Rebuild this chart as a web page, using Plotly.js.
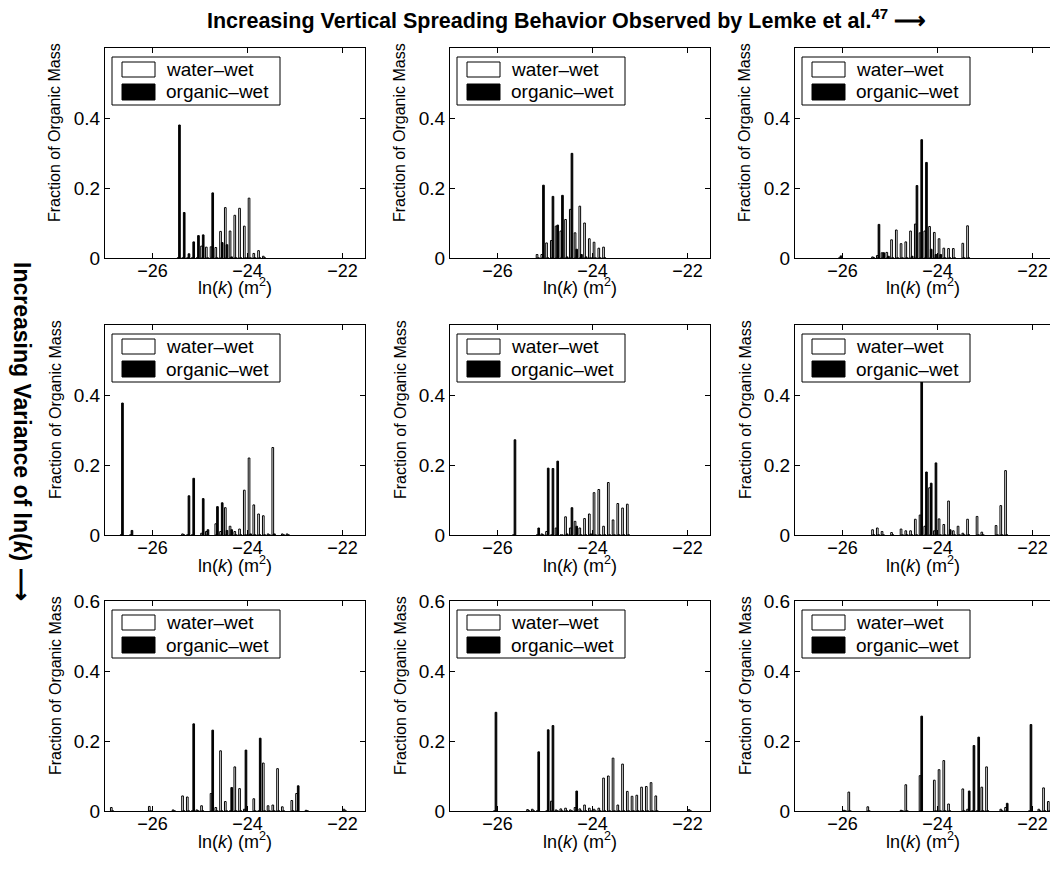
<!DOCTYPE html>
<html><head><meta charset="utf-8">
<script src="https://cdn.plot.ly/plotly-3.0.1.min.js"></script>
<style>html,body{margin:0;padding:0;background:#fff}#chart{width:1050px;height:869px}</style>
</head><body><div id="chart"></div>
<script>
// ---------- data (bin centres in ln(k), fractions of organic mass) ----------
const seriesNames = ['water\u2013wet', 'organic\u2013wet'];

const p11_x = [-25.45,-25.35,-25.25,-25.15,-25.05,-24.95,-24.85,-24.75,-24.65,-24.55,-24.45,-24.35,-24.25,-24.15,-24.05,-23.95,-23.85,-23.75,-23.65];
const p11_water = [0,0,0,0,0,0.034,0.031,0.032,0.03,0.076,0.144,0.077,0.122,0.142,0.091,0.171,0.013,0.021,0.005];
const p11_organic = [0.38,0.13,0.012,0.046,0.064,0.066,0,0.186,0,0.044,0.038,0.003,0,0,0,0,0,0,0];

const p12_x = [-25.15,-25.05,-24.95,-24.85,-24.75,-24.65,-24.55,-24.45,-24.35,-24.25,-24.15,-24.05,-23.95,-23.85,-23.75];
const p12_water = [0.01,0.01,0.043,0.05,0.091,0.077,0.11,0.139,0.072,0.148,0.1,0.055,0.045,0.028,0.031];
const p12_organic = [0,0.208,0,0.176,0.094,0.179,0.003,0.299,0.025,0.01,0.003,0,0,0,0];

const p13_x = [-26.05,-25.35,-25.25,-25.15,-25.05,-24.95,-24.85,-24.75,-24.65,-24.55,-24.45,-24.35,-24.25,-24.15,-24.05,-23.95,-23.85,-23.75,-23.65,-23.45,-23.35];
const p13_water = [0,0.003,0.007,0.015,0.016,0.052,0.08,0.041,0.046,0.077,0.097,0.072,0.077,0.09,0.073,0.055,0.028,0.027,0.027,0.042,0.092];
const p13_organic = [0.006,0,0.096,0.015,0.005,0,0,0,0,0.005,0.207,0.338,0.273,0.025,0.01,0.01,0,0,0,0,0];

const p21_x = [-26.65,-26.45,-25.35,-25.25,-25.15,-24.95,-24.85,-24.65,-24.55,-24.45,-24.35,-24.25,-24.15,-24.05,-23.95,-23.85,-23.75,-23.65,-23.55,-23.45,-23.25,-23.15];
const p21_water = [0,0,0.003,0,0,0.005,0.01,0.032,0.01,0.078,0.025,0.01,0.017,0.128,0.22,0.086,0.06,0.055,0.003,0.25,0.003,0.003];
const p21_organic = [0.377,0.013,0,0.112,0.162,0.104,0.015,0.081,0.092,0.013,0.015,0,0,0,0.003,0,0,0,0,0.003,0,0];

const p22_x = [-25.65,-25.15,-25.05,-24.95,-24.85,-24.75,-24.65,-24.55,-24.45,-24.35,-24.25,-24.15,-24.05,-23.95,-23.85,-23.75,-23.65,-23.55,-23.45,-23.35,-23.25];
const p22_water = [0,0,0.003,0.01,0,0.02,0,0.052,0.02,0.039,0.02,0.047,0.06,0.121,0.13,0.025,0.15,0.043,0.09,0.077,0.088];
const p22_organic = [0.272,0.02,0,0.191,0.19,0.211,0,0.003,0.078,0.025,0,0,0.003,0,0,0,0,0,0,0,0];

const p23_x = [-25.35,-25.25,-25.15,-24.95,-24.75,-24.65,-24.55,-24.45,-24.35,-24.25,-24.15,-24.05,-23.95,-23.85,-23.75,-23.65,-23.55,-23.45,-23.35,-23.15,-23.05,-22.75,-22.65,-22.55];
const p23_water = [0.015,0.02,0.01,0.007,0.017,0.012,0.012,0.045,0.057,0.025,0.135,0.012,0.046,0.03,0.097,0.012,0.025,0.005,0.045,0.053,0.008,0.027,0.084,0.184];
const p23_organic = [0,0,0,0,0,0,0,0,0.48,0.18,0.148,0.206,0,0,0.015,0,0,0,0,0,0,0,0,0];

const p31_x = [-26.85,-26.05,-25.55,-25.35,-25.25,-25.15,-25.05,-24.95,-24.75,-24.65,-24.55,-24.45,-24.35,-24.25,-24.15,-24.05,-23.85,-23.75,-23.65,-23.55,-23.45,-23.35,-23.25,-23.05,-22.95,-22.75,-21.95];
const p31_water = [0.01,0.013,0.003,0.043,0.04,0,0.003,0.015,0.05,0.01,0.172,0.027,0,0.126,0.064,0.005,0.035,0,0.137,0.015,0.017,0.121,0.012,0.03,0.05,0.002,0.005];
const p31_organic = [0,0,0,0,0,0.249,0,0,0.231,0,0,0,0.067,0,0,0.174,0,0.208,0,0,0,0,0,0,0.072,0,0];

const p32_x = [-26.05,-25.35,-25.25,-25.15,-24.95,-24.85,-24.75,-24.65,-24.55,-24.45,-24.35,-24.25,-24.15,-24.05,-23.95,-23.85,-23.75,-23.65,-23.55,-23.45,-23.35,-23.25,-23.15,-23.05,-22.95,-22.85,-22.75,-22.65,-21.95];
const p32_water = [0,0.004,0.005,0,0,0.028,0.003,0.006,0.008,0.003,0.01,0.006,0.017,0.008,0.005,0.008,0.094,0.1,0.151,0.017,0.134,0.056,0.042,0.045,0.068,0.07,0.081,0.043,0.004];
const p32_organic = [0.282,0,0,0.169,0.232,0.244,0,0,0,0,0.057,0,0,0,0,0,0,0,0,0,0,0,0,0,0,0,0,0,0];

const p33_x = [-25.95,-25.85,-25.45,-24.75,-24.65,-24.35,-24.05,-23.95,-23.85,-23.75,-23.45,-23.35,-23.25,-23.15,-23.05,-22.95,-22.65,-22.55,-22.05,-21.85,-21.75,-21.65];
const p33_water = [0.002,0.054,0.012,0.002,0.075,0.101,0.088,0.118,0.144,0.02,0.063,0.005,0,0,0.068,0.126,0.005,0.01,0,0.005,0.066,0.027];
const p33_organic = [0,0,0,0,0,0.271,0,0,0,0,0,0.057,0.187,0.211,0,0,0,0.022,0.247,0,0,0];

const xTickVals = [-26, -24, -22];
const xTickText = ['\u221226', '\u221224', '\u221222'];
const yTickValsUpper = [0, 0.2, 0.4];
const yTickTextUpper = ['0', '0.2', '0.4'];
const yTickValsLower = [0, 0.2, 0.4, 0.6];
const yTickTextLower = ['0', '0.2', '0.4', '0.6'];

const topTitle = '<b>Increasing Vertical Spreading Behavior Observed by Lemke et al.<sup>47</sup> \u27F6</b>';
const leftTitle = '<b>Increasing Variance of ln(<i>k</i>) \u27F6</b>';
const xTitle = 'ln(<i>k</i>) (m<sup>2</sup>)';
const yTitle = 'Fraction of Organic Mass';

// ---------- layout geometry ----------
const panels = [
  [p11_x, p11_water, p11_organic], [p12_x, p12_water, p12_organic], [p13_x, p13_water, p13_organic],
  [p21_x, p21_water, p21_organic], [p22_x, p22_water, p22_organic], [p23_x, p23_water, p23_organic],
  [p31_x, p31_water, p31_organic], [p32_x, p32_water, p32_organic], [p33_x, p33_water, p33_organic]
];
const W = 1050, H = 869;
const colPx = [[105, 365], [450, 710], [795, 1050]];
const rowPx = [[48, 258], [325, 535], [601, 811]];
const pxPerUnit = 47.5;
const FONT = 'Liberation Sans, Arial, Helvetica, sans-serif';
const px = v => v / W;
const py = v => 1 - v / H;

const data = [];
const layout = {
  width: W, height: H,
  margin: {l: 0, r: 0, t: 0, b: 0},
  paper_bgcolor: '#fff', plot_bgcolor: '#fff',
  showlegend: false,
  barmode: 'group', bargap: 0.3, bargroupgap: 0,
  font: {family: FONT, color: '#000', size: 18},
  shapes: [], annotations: []
};

panels.forEach((p, i) => {
  const r = Math.floor(i / 3), c = i % 3;
  const n = i === 0 ? '' : String(i + 1);
  const [L, R] = colPx[c];
  const [T, B] = rowPx[r];
  data.push({type: 'bar', name: seriesNames[0], x: p[0], y: p[1], xaxis: 'x' + n, yaxis: 'y' + n,
    marker: {color: '#fff', line: {color: '#000', width: 1}}, hoverinfo: 'x+y'});
  data.push({type: 'bar', name: seriesNames[1], x: p[0], y: p[2], xaxis: 'x' + n, yaxis: 'y' + n,
    marker: {color: '#000', line: {color: '#000', width: 1}}, hoverinfo: 'x+y'});
  const x0 = -27;
  layout['xaxis' + n] = {
    domain: [px(L), px(R)], anchor: 'y' + n,
    range: [x0, x0 + (R - L) / pxPerUnit],
    tickvals: xTickVals, ticktext: xTickText,
    ticks: 'inside', ticklen: 5, tickcolor: '#000', tickwidth: 1,
    ticklabelstandoff: -4,
    showline: true, linecolor: '#000', linewidth: 1, mirror: 'ticks',
    showgrid: false, zeroline: false, tickfont: {size: 18, family: FONT}, fixedrange: true
  };
  layout['yaxis' + n] = {
    domain: [py(B), py(T)], anchor: 'x' + n, range: [0, 0.6],
    tickvals: r === 2 ? yTickValsLower : yTickValsUpper,
    ticktext: r === 2 ? yTickTextLower : yTickTextUpper,
    ticks: 'inside', ticklen: 5, tickcolor: '#000', tickwidth: 1,
    showline: true, linecolor: '#000', linewidth: 1, mirror: c === 2 ? false : 'ticks',
    showgrid: false, zeroline: false, tickfont: {size: 19, family: FONT}, fixedrange: true
  };
  // legend box
  layout.shapes.push({type: 'rect', xref: 'paper', yref: 'paper', layer: 'above',
    x0: px(L + 7), x1: px(L + 175), y0: py(T + 57), y1: py(T + 9),
    fillcolor: '#fff', line: {color: '#000', width: 1}});
  layout.shapes.push({type: 'rect', xref: 'paper', yref: 'paper', layer: 'above',
    x0: px(L + 17), x1: px(L + 50), y0: py(T + 29), y1: py(T + 14),
    fillcolor: '#fff', line: {color: '#000', width: 1}});
  layout.shapes.push({type: 'rect', xref: 'paper', yref: 'paper', layer: 'above',
    x0: px(L + 17), x1: px(L + 50), y0: py(T + 52), y1: py(T + 36),
    fillcolor: '#000', line: {color: '#000', width: 1}});
  layout.annotations.push({xref: 'paper', yref: 'paper', x: px(L + 59), y: py(T + 21.5),
    xanchor: 'left', yanchor: 'middle', showarrow: false, text: seriesNames[0], font: {size: 19}});
  layout.annotations.push({xref: 'paper', yref: 'paper', x: px(L + 59), y: py(T + 44),
    xanchor: 'left', yanchor: 'middle', showarrow: false, text: seriesNames[1], font: {size: 19}});
  // axis titles
  layout.annotations.push({xref: 'paper', yref: 'paper', x: px((L + Math.min(R, L + 260)) / 2), y: py(B + 29),
    xanchor: 'center', yanchor: 'middle', showarrow: false, text: xTitle, font: {size: 18}});
  layout.annotations.push({xref: 'paper', yref: 'paper', x: px(L - 50), y: py((T + B) / 2 - 20),
    xanchor: 'center', yanchor: 'middle', showarrow: false, textangle: -90, text: yTitle, font: {size: 16}});
});

layout.annotations.push({xref: 'paper', yref: 'paper', x: px(566), y: py(19), xanchor: 'center', yanchor: 'middle',
  showarrow: false, text: topTitle, font: {size: 21.5}});
layout.annotations.push({xref: 'paper', yref: 'paper', x: px(22), y: py(431), xanchor: 'center', yanchor: 'middle',
  showarrow: false, textangle: 90, text: leftTitle, font: {size: 23}});

Plotly.newPlot('chart', data, layout, {staticPlot: true});
</script>
</body></html>
